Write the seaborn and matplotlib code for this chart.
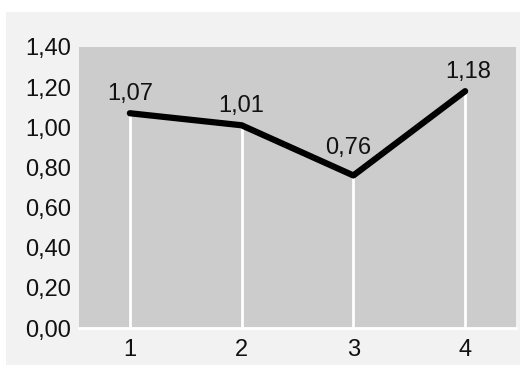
import matplotlib
matplotlib.use("Agg")
import matplotlib.pyplot as plt
from matplotlib.patches import Rectangle
from matplotlib.ticker import FuncFormatter
import pandas as pd
import seaborn as sns

# chart data
categories = [1, 2, 3, 4]
values = [1.07, 1.01, 0.76, 1.18]
y_ticks = [0.0, 0.2, 0.4, 0.6, 0.8, 1.0, 1.2, 1.4]

# label offsets in points (the valley label sits a bit higher and to the left)
label_dx = [0, 0, -3.5, 2.5]
label_dy = [6, 6, 12, 6]


def comma(v, _pos=None):
	return f"{v:.2f}".replace(".", ",")


sns.set_theme(style="white")
plt.rcParams["font.family"] = ["Liberation Sans", "DejaVu Sans"]

df = pd.DataFrame({"x": categories, "y": values})

fig = plt.figure(figsize=(5.2, 3.65), dpi=100)
fig.patch.set_facecolor("white")
fig.add_artist(
	Rectangle((6 / 520, 0), 1 - 6 / 520, 1 - 12 / 365, transform=fig.transFigure,
		facecolor="#f2f2f2", edgecolor="none", zorder=-10)
)

ax = fig.add_axes([79 / 520, 37 / 365, 437 / 520, 281 / 365])
ax.set_zorder(1)
ax.set_facecolor("#cccccc")

ax.vlines(df["x"], 0, df["y"], color="white", linewidth=2, zorder=2)
sns.lineplot(data=df, x="x", y="y", ax=ax, color="black", linewidth=4.5,
	solid_capstyle="round", solid_joinstyle="round", zorder=3)

for xv, yv, dx, dy in zip(categories, values, label_dx, label_dy):
	ax.annotate(comma(yv), (xv, yv), xytext=(dx, dy), textcoords="offset points",
		ha="center", va="bottom", fontsize=17, color="#111111")

ax.set_xlim(0.545, 4.455)
ax.set_ylim(0, 1.4)
ax.set_xticks(categories)
ax.set_yticks(y_ticks)
ax.yaxis.set_major_formatter(FuncFormatter(comma))
ax.tick_params(axis="both", length=0, labelsize=17, colors="#111111")
ax.tick_params(axis="y", pad=6)
ax.tick_params(axis="x", pad=8)
ax.set_xlabel("")
ax.set_ylabel("")

for side in ("top", "right", "left"):
	ax.spines[side].set_visible(False)
ax.spines["bottom"].set_color("white")
ax.spines["bottom"].set_linewidth(2)

fig.savefig("out.png", dpi=100)
plt.close(fig)
